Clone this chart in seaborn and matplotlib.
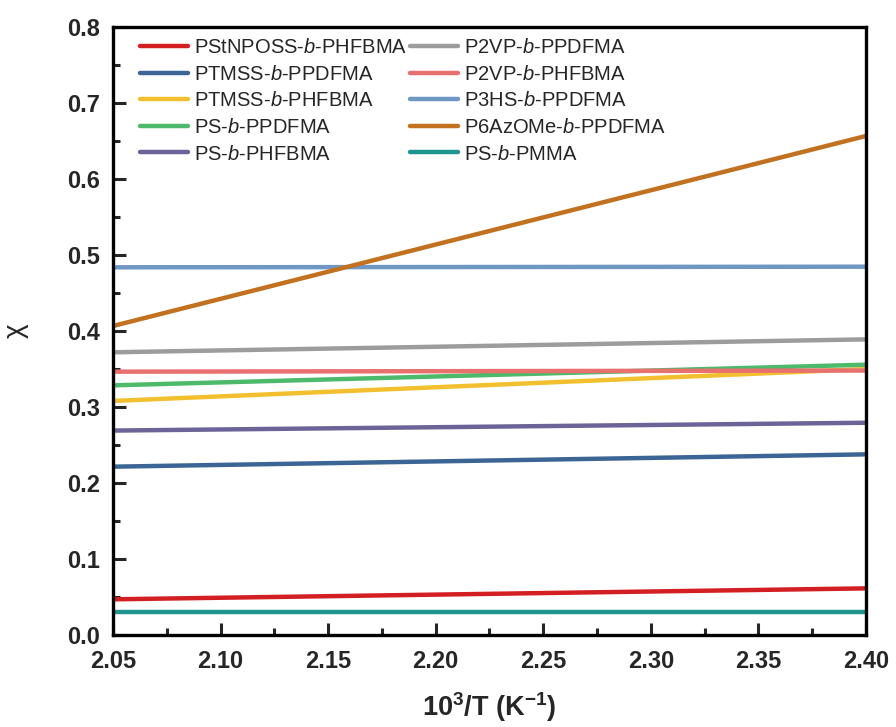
import matplotlib
matplotlib.use("Agg")
import matplotlib.pyplot as plt
from matplotlib.ticker import MultipleLocator
import numpy as np
import pandas as pd
import seaborn as sns

# Flory-Huggins chi vs inverse temperature for several block copolymers
inv_t = [2.05, 2.40]  # 10^3/T (K^-1)

series_names = [
    "PStNPOSS-$\\it{b}$-PHFBMA",
    "PTMSS-$\\it{b}$-PPDFMA",
    "PTMSS-$\\it{b}$-PHFBMA",
    "PS-$\\it{b}$-PPDFMA",
    "PS-$\\it{b}$-PHFBMA",
    "P2VP-$\\it{b}$-PPDFMA",
    "P2VP-$\\it{b}$-PHFBMA",
    "P3HS-$\\it{b}$-PPDFMA",
    "P6AzOMe-$\\it{b}$-PPDFMA",
    "PS-$\\it{b}$-PMMA",
]

chi_start = [0.047, 0.2215, 0.308, 0.3285, 0.269, 0.372, 0.3465, 0.4838, 0.4066, 0.0299]
chi_end = [0.0614, 0.2377, 0.350, 0.3557, 0.2793, 0.389, 0.348, 0.4846, 0.6566, 0.0299]

line_colors = ["#d31e22", "#3b6595", "#f2c02e", "#4dba6b", "#6b6499",
               "#9c9c9c", "#e8706e", "#6f97c4", "#c2711f", "#1f9590"]

x_ticks = [2.05, 2.10, 2.15, 2.20, 2.25, 2.30, 2.35, 2.40]
y_ticks = [0.0, 0.1, 0.2, 0.3, 0.4, 0.5, 0.6, 0.7, 0.8]

rows = []
for name, y0, y1 in zip(series_names, chi_start, chi_end):
    rows.append({"x": inv_t[0], "chi": y0, "system": name})
    rows.append({"x": inv_t[1], "chi": y1, "system": name})
df = pd.DataFrame(rows)

sns.set_theme(style="white")
plt.rcParams["font.family"] = ["Liberation Sans", "DejaVu Sans"]
plt.rcParams["mathtext.fontset"] = "custom"
plt.rcParams["mathtext.rm"] = "Liberation Sans"
plt.rcParams["mathtext.it"] = "Liberation Sans:italic"
plt.rcParams["mathtext.bf"] = "Liberation Sans:bold"

fig = plt.figure(figsize=(8.96, 7.27), dpi=100)
ax = fig.add_axes([0.1261, 0.1265, 0.8404, 0.8364])

sns.lineplot(data=df, x="x", y="chi", hue="system", hue_order=series_names,
             palette=dict(zip(series_names, line_colors)), linewidth=3.2,
             ax=ax, legend=True)

ax.set_xlim(2.05, 2.40)
ax.set_ylim(0.0, 0.8)
ax.set_xticks(x_ticks)
ax.set_xticklabels([f"{v:.2f}" for v in x_ticks])
ax.set_yticks(y_ticks)
ax.set_yticklabels([f"{v:.1f}" for v in y_ticks])
ax.xaxis.set_minor_locator(MultipleLocator(0.025))
ax.yaxis.set_minor_locator(MultipleLocator(0.05))

for spine in ax.spines.values():
    spine.set_visible(True)
    spine.set_color("black")
    spine.set_linewidth(2.4)

ax.tick_params(axis="both", which="major", direction="in", length=9, width=2.2,
               labelsize=17, top=False, right=False, bottom=True, left=True)
ax.tick_params(axis="x", which="major", pad=11)
ax.tick_params(axis="y", which="major", pad=9)
ax.tick_params(axis="both", which="minor", direction="in", length=5, width=2.2,
               top=False, right=False, bottom=True, left=True)
for lbl in ax.get_xticklabels() + ax.get_yticklabels():
    lbl.set_fontweight("bold")

ax.set_xlabel("10$^{\\mathbf{3}}$/T (K$^{\\mathbf{-1}}$)", fontsize=19.5,
              fontweight="bold", labelpad=12)
ax.set_ylabel("\u03c7", fontsize=20, labelpad=28)

handles, labels = ax.get_legend_handles_labels()
leg = ax.legend(handles, labels, ncol=2, loc="upper left",
                bbox_to_anchor=(0.036, 0.982), frameon=False, fontsize=14.5,
                handlelength=2.4, handletextpad=0.3, columnspacing=0.1,
                labelspacing=0.38, borderpad=0, borderaxespad=0)
for line in leg.get_lines():
    line.set_linewidth(3.2)
    line.set_solid_capstyle("round")

fig.savefig("out.png", dpi=100)
